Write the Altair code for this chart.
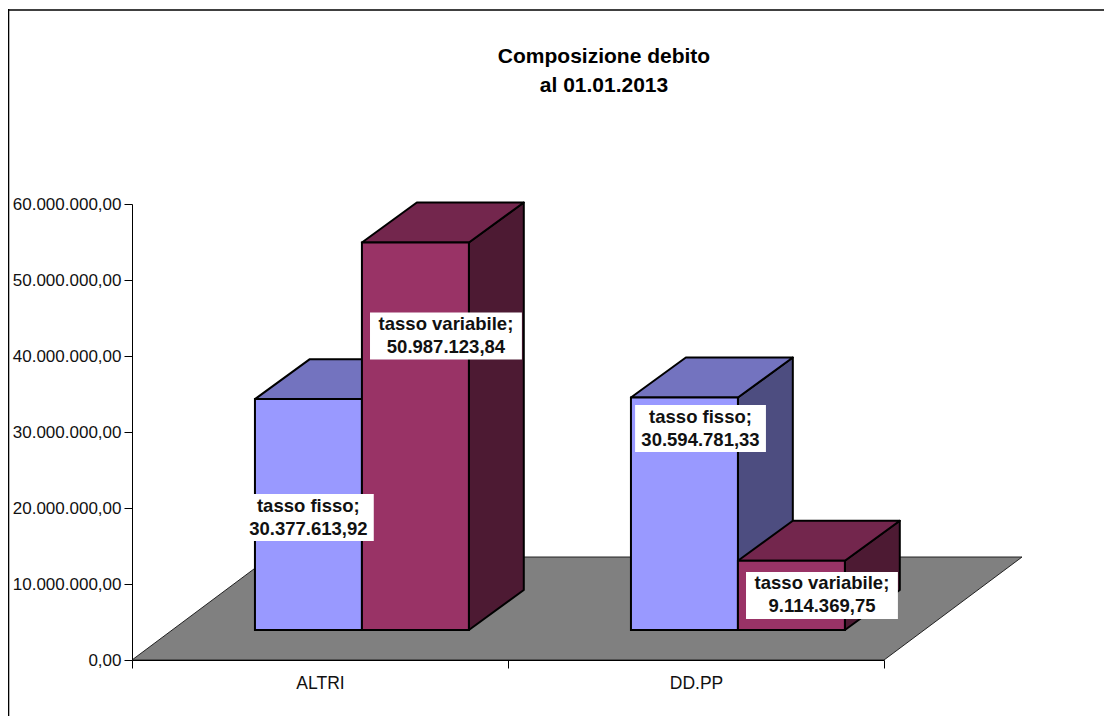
import json
import altair as alt
import pandas as pd

categories = ["ALTRI", "DD.PP"]
series = ["tasso fisso", "tasso variabile"]
fisso = [30377613.92, 30594781.33]
variabile = [50987123.84, 9114369.75]
y_ticks = [0, 10000000, 20000000, 30000000, 40000000, 50000000, 60000000]
y_tick_labels = ["0,00", "10.000.000,00", "20.000.000,00", "30.000.000,00",
                 "40.000.000,00", "50.000.000,00", "60.000.000,00"]
title_lines = ["Composizione debito", "al 01.01.2013"]

# label anchor (x in category units, y in value units)
label_x = [0.469, 0.835, 1.512, 1.835]
label_y = [18750000, 42630000, 30460000, 8490000]

# pseudo-3D layout, in data units
GAP, BAR = 0.327, 0.2845
DX, DY = 0.146, 5260000
BASE = 3950000
FLOOR_DX, FLOOR_DY = 0.367, 13550000
BOX_W = {"tasso fisso": 0.174, "tasso variabile": 0.202}
BOX_H = 3090000

# canvas layout in pixels
W, H = 752, 456
L, T, R, B = 124, 196, 220, 56
FF = "Liberation Sans"


def it(v):
    return f"{v:,.2f}".replace(",", "#").replace(".", ",").replace("#", ".")


fronts, sides, tops, labels = [], [], [], []
k = 0
for c, cat in enumerate(categories):
    for s, (name, vals) in enumerate(zip(series, (fisso, variabile))):
        v = vals[c]
        x0 = c + GAP + s * BAR
        x1 = x0 + BAR
        top = BASE + v
        bar = f"{cat}-{name}"
        fronts.append(dict(bar=bar, series=name, x=x0, x2=x1, y=BASE, y2=top))
        sides += [dict(bar=bar, series=name, x=x1, y=BASE, y2=top),
                  dict(bar=bar, series=name, x=x1 + DX, y=BASE + DY, y2=top + DY)]
        tops += [dict(bar=bar, series=name, y=top, x=x0, x2=x1),
                 dict(bar=bar, series=name, y=top + DY, x=x0 + DX, x2=x1 + DX)]
        labels.append(dict(bar=bar, x=label_x[k], y=label_y[k],
                           xa=label_x[k] - BOX_W[name], xb=label_x[k] + BOX_W[name],
                           ya=label_y[k] - BOX_H, yb=label_y[k] + BOX_H,
                           text=f"{name};\n{it(v)}"))
        k += 1

floor = [dict(y=0, x=0, x2=2), dict(y=FLOOR_DY, x=FLOOR_DX, x2=2 + FLOOR_DX)]

ylab = "[" + ",".join(json.dumps(t) for t in y_tick_labels) + "][round(datum.value/10000000)]"
xlab = f"datum.value==0.5?{json.dumps(categories[0])}:datum.value==1.5?{json.dumps(categories[1])}:''"

xs = alt.Scale(domain=[0, 2], nice=False, zero=False)
ys = alt.Scale(domain=[0, 60000000], nice=False, zero=False)
x_axis = alt.Axis(
    values=[0, 0.5, 1, 1.5, 2], labelExpr=xlab, grid=False, tickSize=8, title=None,
    tickColor="black", domainColor="black", labelColor="#111111",
    labelFont=FF, labelFontSize=17.5, labelPadding=6, labelFlush=False,
    labelOverlap=False, zindex=1,
    tickOpacity={"condition": {"test": "datum.value==0.5||datum.value==1.5", "value": 0}, "value": 1})
y_axis = alt.Axis(
    values=y_ticks, labelExpr=ylab, grid=False, tickSize=8, title=None,
    tickColor="black", domainColor="black", labelColor="#111111",
    labelFont=FF, labelFontSize=17, labelPadding=3, labelOverlap=False, zindex=1)


def XF(f):
    return alt.X(f, scale=xs, axis=x_axis)


def YF(f):
    return alt.Y(f, scale=ys, axis=y_axis)


X, Y = XF("x:Q"), YF("y:Q")
X2 = alt.X2("x2:Q")
Y2 = alt.Y2("y2:Q")


def colour(rng):
    return alt.Color("series:N", scale=alt.Scale(domain=series, range=rng), legend=None)


floor_layer = alt.Chart(pd.DataFrame(floor)).mark_area(
    orient="horizontal", color="#808080", stroke="#222222", strokeWidth=1
).encode(x=X, x2=X2, y=Y)

side_layer = alt.Chart(pd.DataFrame(sides)).mark_area(
    orient="vertical", stroke="black", strokeWidth=2, strokeJoin="round"
).encode(x=X, y=Y, y2=Y2, detail="bar:N", color=colour(["#4D4D80", "#4D1A33"]))

top_layer = alt.Chart(pd.DataFrame(tops)).mark_area(
    orient="horizontal", stroke="black", strokeWidth=2, strokeJoin="round"
).encode(x=X, x2=X2, y=Y, detail="bar:N", color=colour(["#7373BF", "#73264D"]))

front_layer = alt.Chart(pd.DataFrame(fronts)).mark_rect(
    stroke="black", strokeWidth=2
).encode(x=X, x2=X2, y=Y, y2=Y2, color=colour(["#9999FF", "#993366"]))

label_df = pd.DataFrame(labels)
box_layer = alt.Chart(label_df).mark_rect(color="white").encode(
    x=XF("xa:Q"), x2=alt.X2("xb:Q"), y=YF("ya:Q"), y2=alt.Y2("yb:Q"))
text_layer = alt.Chart(label_df).mark_text(
    font=FF, fontWeight="bold", fontSize=18.5, lineHeight=23, lineBreak="\n",
    color="#111111", align="center", baseline="middle", dy=-12
).encode(x=X, y=Y, text="text:N")

frame_left = alt.Chart(pd.DataFrame({"a": [0]})).mark_rule(color="black", strokeWidth=1.6).encode(
    x=alt.value(-L + 0.5), y=alt.value(-T + 1), y2=alt.value(H + B))
frame_top = alt.Chart(pd.DataFrame({"a": [0]})).mark_rule(color="black", strokeWidth=1.6).encode(
    x=alt.value(-L), x2=alt.value(W + R), y=alt.value(-T + 2))

chart = alt.layer(
    frame_left, frame_top, floor_layer, side_layer, top_layer, front_layer, box_layer, text_layer
).resolve_scale(color="independent").properties(
    width=W, height=H,
    autosize=alt.AutoSizeParams(type="none"),
    padding={"left": L, "top": T, "right": R, "bottom": B},
    background="white",
    title=alt.TitleParams(text=title_lines, font=FF, fontSize=21, fontWeight="bold",
                          color="black", lineHeight=29, anchor="middle", dx=96, offset=-88),
).configure_view(stroke=None)

chart.save("out.html", embed_options={"renderer": "svg", "actions": False})
